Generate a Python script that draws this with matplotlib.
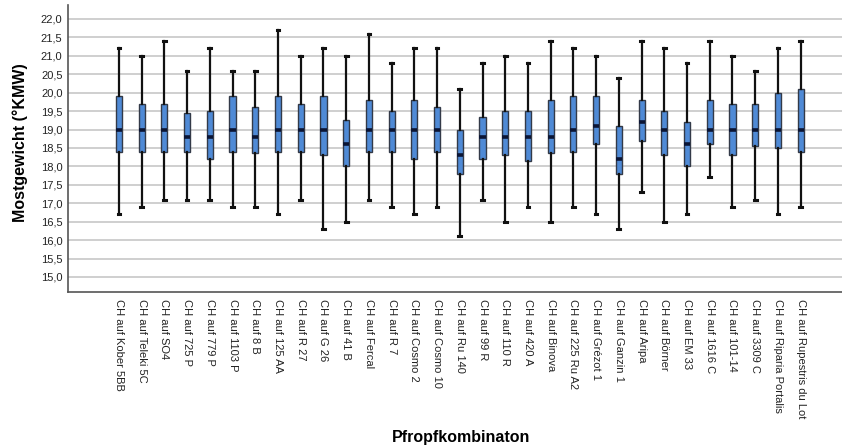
import matplotlib
matplotlib.use("Agg")
import matplotlib.pyplot as plt
from matplotlib.ticker import FuncFormatter

plt.rcParams['font.family'] = ['Liberation Sans', 'DejaVu Sans']

# rootstock combinations (x categories)
labels = ["CH auf Kober 5BB", "CH auf Teleki 5C", "CH auf SO4", "CH auf 725 P",
          "CH auf 779 P", "CH auf 1103 P", "CH auf 8 B", "CH auf 125 AA",
          "CH auf R 27", "CH auf G 26", "CH auf 41 B", "CH auf Fercal",
          "CH auf R 7", "CH auf Cosmo 2", "CH auf Cosmo 10", "CH auf Ru 140",
          "CH auf 99 R", "CH auf 110 R", "CH auf 420 A", "CH auf Binova",
          "CH auf 225 Ru A2", "CH auf Grézot 1", "CH auf Ganzin 1", "CH auf Aripa",
          "CH auf Börner", "CH auf EM 33", "CH auf 1616 C", "CH auf 101-14",
          "CH auf 3309 C", "CH auf Riparia Portalis", "CH auf Rupestris du Lot"]

# box plot statistics (°KMW)
whislo = [16.7, 16.9, 17.1, 17.1, 17.1, 16.9, 16.9, 16.7, 17.1, 16.3,
          16.5, 17.1, 16.9, 16.7, 16.9, 16.1, 17.1, 16.5, 16.9, 16.5,
          16.9, 16.7, 16.3, 17.3, 16.5, 16.7, 17.7, 16.9, 17.1, 16.7, 16.9]
q1 = [18.4, 18.4, 18.4, 18.4, 18.2, 18.4, 18.35, 18.4, 18.4, 18.3,
      18.0, 18.4, 18.4, 18.2, 18.4, 17.8, 18.2, 18.3, 18.15, 18.35,
      18.4, 18.6, 17.8, 18.7, 18.3, 18.0, 18.6, 18.3, 18.55, 18.5, 18.4]
med = [19.0, 19.0, 19.0, 18.8, 18.8, 19.0, 18.8, 19.0, 19.0, 19.0,
       18.6, 19.0, 19.0, 19.0, 19.0, 18.3, 18.8, 18.8, 18.8, 18.8,
       19.0, 19.1, 18.2, 19.2, 19.0, 18.6, 19.0, 19.0, 19.0, 19.0, 19.0]
q3 = [19.9, 19.7, 19.7, 19.45, 19.5, 19.9, 19.6, 19.9, 19.7, 19.9,
      19.25, 19.8, 19.5, 19.8, 19.6, 19.0, 19.35, 19.5, 19.5, 19.8,
      19.9, 19.9, 19.1, 19.8, 19.5, 19.2, 19.8, 19.7, 19.7, 20.0, 20.1]
whishi = [21.2, 21.0, 21.4, 20.6, 21.2, 20.6, 20.6, 21.7, 21.0, 21.2,
          21.0, 21.6, 20.8, 21.2, 21.2, 20.1, 20.8, 21.0, 20.8, 21.4,
          21.2, 21.0, 20.4, 21.4, 21.2, 20.8, 21.4, 21.0, 20.6, 21.2, 21.4]

yticks = [15.0 + 0.5 * i for i in range(15)]


def main():
    fig = plt.figure(figsize=(8.42, 4.48), dpi=100)
    ax = fig.add_axes([0.0808, 0.348, 0.9192, 0.641])

    stats = []
    for i in range(len(labels)):
        stats.append({'label': labels[i], 'whislo': whislo[i], 'q1': q1[i],
                      'med': med[i], 'q3': q3[i], 'whishi': whishi[i],
                      'fliers': []})
    pos = list(range(1, len(labels) + 1))

    ax.bxp(stats, positions=pos, widths=0.27, patch_artist=True,
           showfliers=False, capwidths=0.12,
           boxprops=dict(facecolor='#4f8ad6', edgecolor='#333a48', linewidth=1.0),
           medianprops=dict(color='#0b1535', linewidth=2.6),
           whiskerprops=dict(color='#111111', linewidth=1.6),
           capprops=dict(color='#111111', linewidth=2.2))

    # grid and axes look
    ax.set_yticks(yticks)
    ax.yaxis.set_major_formatter(FuncFormatter(lambda v, p: '{:.1f}'.format(v).replace('.', ',')))
    ax.grid(True, axis='y', color='#cfcfcf', linewidth=1.4)
    ax.set_axisbelow(True)
    ax.set_xlim(-1.24, 32.82)
    ax.set_ylim(14.59, 22.38)
    for s in ('top', 'right'):
        ax.spines[s].set_visible(False)
    for s in ('left', 'bottom'):
        ax.spines[s].set_color('#555555')
        ax.spines[s].set_linewidth(1.2)
    ax.tick_params(axis='both', length=0, labelsize=8, colors='#222222')
    ax.tick_params(axis='y', pad=4)
    ax.tick_params(axis='x', pad=5)
    ax.set_xticks(pos)
    ax.set_xticklabels(labels, rotation=-90, va='top', ha='center')

    ax.set_ylabel('Mostgewicht (°KMW)', fontsize=11.5, fontweight='bold')
    ax.yaxis.set_label_coords(-0.052, 0.52)
    ax.set_xlabel('Pfropfkombinaton', fontsize=11.5, fontweight='bold')
    ax.xaxis.set_label_coords(0.508, -0.48)

    fig.savefig('out.png', dpi=100)


if __name__ == '__main__':
    main()
